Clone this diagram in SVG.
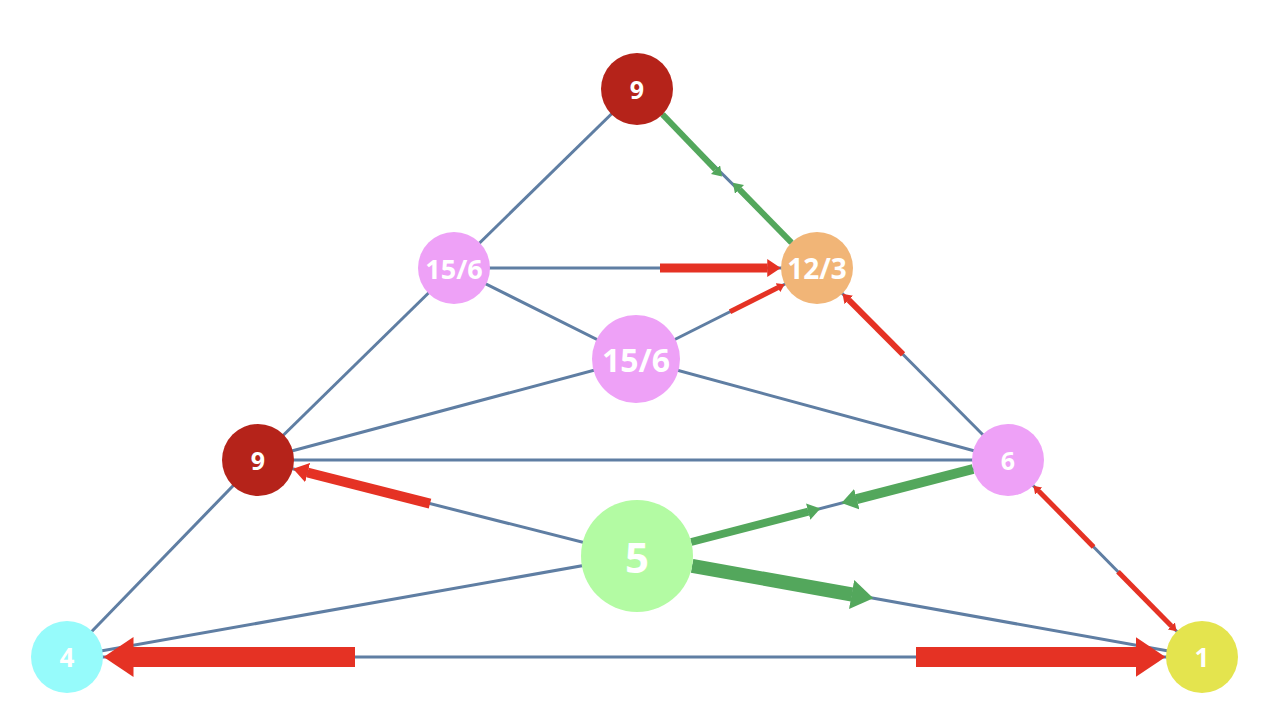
<svg xmlns="http://www.w3.org/2000/svg" width="1270" height="720" viewBox="0 0 1270 720">
<style>
.e{stroke:#5f7ea3;stroke-width:3;fill:none}
.r{stroke:#e53224;fill:none;stroke-linecap:butt}
.g{stroke:#53a75c;fill:none;stroke-linecap:butt}
.t{font-family:"Open Sans","DejaVu Sans",sans-serif;font-weight:bold;fill:#ffffff;text-anchor:middle;dominant-baseline:central}
</style>
<defs>
<marker id="hr" viewBox="0 0 3 4" markerWidth="1.5" markerHeight="2.1" refX="0.05" refY="2" orient="auto"><path d="M0,0 L3,2 L0,4 z" fill="#e53224"/></marker>
<marker id="hg" viewBox="0 0 3 4" markerWidth="1.6" markerHeight="2.1" refX="0.05" refY="2" orient="auto"><path d="M0,0 L3,2 L0,4 z" fill="#53a75c"/></marker>
</defs>
<rect width="1270" height="720" fill="#ffffff"/>
<g id="connectors">
<line class="e" x1="637" y1="89" x2="454" y2="268"/>
<line class="e" x1="637" y1="89" x2="817" y2="268"/>
<line class="e" x1="454" y1="268" x2="817" y2="268"/>
<line class="e" x1="454" y1="268" x2="636" y2="359"/>
<line class="e" x1="454" y1="268" x2="258" y2="460"/>
<line class="e" x1="636" y1="359" x2="817" y2="268"/>
<line class="e" x1="636" y1="359" x2="258" y2="460"/>
<line class="e" x1="636" y1="359" x2="1008" y2="460"/>
<line class="e" x1="1008" y1="460" x2="817" y2="268"/>
<line class="e" x1="258" y1="460" x2="1008" y2="460"/>
<line class="e" x1="258" y1="460" x2="67" y2="657"/>
<line class="e" x1="637" y1="556" x2="258" y2="460"/>
<line class="e" x1="637" y1="556" x2="1008" y2="460"/>
<line class="e" x1="1008" y1="460" x2="1202" y2="657"/>
<line class="e" x1="637" y1="556" x2="67" y2="657"/>
<line class="e" x1="637" y1="556" x2="1202" y2="657"/>
<line class="e" x1="67" y1="657" x2="1202" y2="657"/>
<line class="g" stroke-width="6" x1="662.5" y1="114.4" x2="715.6" y2="169.7" marker-end="url(#hg)"/>
<line class="g" stroke-width="6" x1="791.5" y1="242.6" x2="739.4" y2="189.3" marker-end="url(#hg)"/>
<line class="r" stroke-width="9" x1="660" y1="268" x2="767.5" y2="268" marker-end="url(#hr)"/>
<line class="r" stroke-width="5" x1="730" y1="311.7" x2="778.1" y2="287.6" marker-end="url(#hr)"/>
<line class="r" stroke-width="6" x1="903" y1="354.4" x2="848.7" y2="299.9" marker-end="url(#hr)"/>
<line class="r" stroke-width="5" x1="1093.6" y1="546.9" x2="1038.6" y2="490.9" marker-end="url(#hr)"/>
<line class="r" stroke-width="5" x1="1118" y1="571.7" x2="1171.4" y2="626.1" marker-end="url(#hr)"/>
<line class="r" stroke-width="20" x1="355" y1="657" x2="133" y2="657" marker-end="url(#hr)"/>
<line class="r" stroke-width="20" x1="916" y1="657" x2="1136" y2="657" marker-end="url(#hr)"/>
<line class="r" stroke-width="10" x1="430" y1="503.6" x2="307.4" y2="472.5" marker-end="url(#hr)"/>
<line class="g" stroke-width="8" x1="691.2" y1="542" x2="808.4" y2="511.6" marker-end="url(#hg)"/>
<line class="g" stroke-width="10" x1="973.1" y1="469" x2="856.5" y2="499.2" marker-end="url(#hg)"/>
<line class="g" stroke-width="14" x1="692.1" y1="565.9" x2="852" y2="594.5" marker-end="url(#hg)"/>
</g>
<g id="n_top"><circle cx="637" cy="89" r="36" fill="#b5231a"/><text class="t" x="637" y="89" font-size="25">9</text></g>
<g id="n_123"><circle cx="817" cy="268" r="36" fill="#f1b577"/><text class="t" x="817" y="268" font-size="28">12/3</text></g>
<g id="n_156a"><circle cx="454" cy="268" r="36" fill="#eea1f7"/><text class="t" x="454" y="268" font-size="27">15/6</text></g>
<g id="n_156b"><circle cx="636" cy="359" r="44" fill="#eea1f7"/><text class="t" x="636" y="359" font-size="32">15/6</text></g>
<g id="n_9mid"><circle cx="258" cy="460" r="36" fill="#b5231a"/><text class="t" x="258" y="460" font-size="25">9</text></g>
<g id="n_6"><circle cx="1008" cy="460" r="36" fill="#eea1f7"/><text class="t" x="1008" y="460" font-size="25">6</text></g>
<g id="n_5"><circle cx="637" cy="556" r="56" fill="#b3fba3"/><text class="t" x="637" y="556" font-size="42">5</text></g>
<g id="n_4"><circle cx="67" cy="657" r="36" fill="#96fbfb"/><text class="t" x="67" y="657" font-size="26">4</text></g>
<g id="n_1"><circle cx="1202" cy="657" r="36" fill="#e4e44e"/><text class="t" x="1202" y="657" font-size="26">1</text></g>
</svg>
